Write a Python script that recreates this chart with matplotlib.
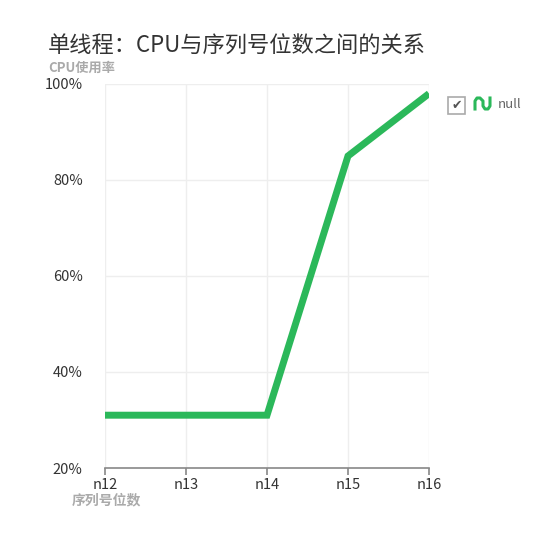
import matplotlib
matplotlib.use("Agg")
import matplotlib.pyplot as plt
from matplotlib.patches import Rectangle
from matplotlib.lines import Line2D

plt.rcParams['font.family'] = ['Noto Sans CJK SC', 'DejaVu Sans']

categories = ['n12', 'n13', 'n14', 'n15', 'n16']
cpu_usage = [31, 31, 31, 85, 98]
y_ticks = [20, 40, 60, 80, 100]
y_tick_labels = ['20%', '40%', '60%', '80%', '100%']
series_name = 'null'
title = '单线程：CPU与序列号位数之间的关系'
y_name = 'CPU使用率'
x_name = '序列号位数'

green = '#2bb85a'
W, H = 558, 536
fig = plt.figure(figsize=(W / 100, H / 100), dpi=100)
ax = fig.add_axes([105 / W, 1 - 468 / H, (429 - 105) / W, (468 - 84) / H])

x = list(range(len(categories)))
ax.plot(x, cpu_usage, color=green, linewidth=5, solid_joinstyle='miter', solid_capstyle='butt', zorder=3)

ax.set_xlim(0, len(categories) - 1)
ax.set_ylim(20, 100)
ax.set_xticks(x)
ax.set_xticklabels(categories, fontsize=10.5, color='#333333')
ax.set_yticks(y_ticks)
ax.set_yticklabels(y_tick_labels, fontsize=10.5, color='#333333')
ax.grid(True, color='#eeeeee', linewidth=1)
ax.set_axisbelow(True)
for s in ['top', 'right', 'left']:
    ax.spines[s].set_visible(False)
ax.spines['bottom'].set_color('#888888')
ax.spines['bottom'].set_linewidth(1.2)
ax.tick_params(axis='x', length=5, color='#888888', width=1.2, pad=2)
ax.tick_params(axis='y', length=0, pad=16)

fig.text(48 / W, 1 - 46 / H, title, fontsize=16, color='#333333', va='center', ha='left')
fig.text(48 / W, 1 - 68 / H, y_name, fontsize=9.5, color='#aaaaaa', fontweight='bold', va='center', ha='left')
fig.text(72 / W, 1 - 500 / H, x_name, fontsize=10, color='#aaaaaa', fontweight='bold', va='center', ha='left')

# legend
fig.patches.append(Rectangle((448 / W, 1 - 114 / H), 17 / W, 17 / H, transform=fig.transFigure,
                             facecolor='white', edgecolor='#aaaaaa', linewidth=1.2))
fig.text(456.5 / W, 1 - 105 / H, '✔', fontsize=9, color='#555555', ha='center', va='center',
         family=['DejaVu Sans'])
lx = [475, 475, 477, 480, 483, 483, 485, 488, 490, 490]
ly = [109, 101, 98, 98, 101, 106, 109, 109, 106, 98]
fig.add_artist(Line2D([v / W for v in lx], [1 - v / H for v in ly], transform=fig.transFigure,
                      color=green, linewidth=2.2))
fig.text(498 / W, 1 - 104 / H, series_name, fontsize=9.5, color='#666666', va='center', ha='left')

fig.savefig('out.png', dpi=100)
